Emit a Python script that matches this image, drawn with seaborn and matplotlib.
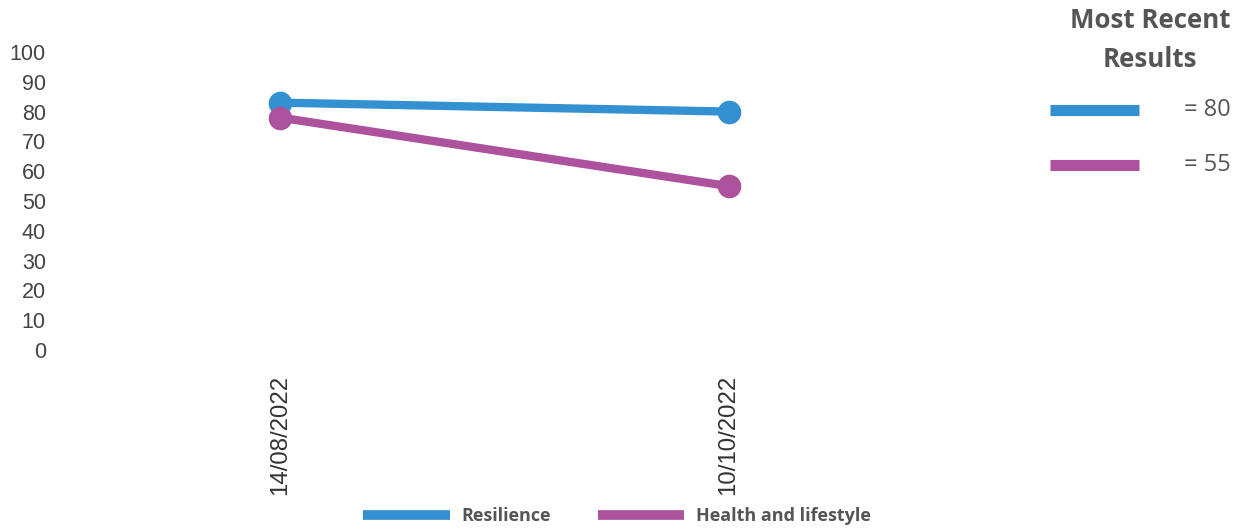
import matplotlib
matplotlib.use("Agg")
import matplotlib.pyplot as plt
from matplotlib.lines import Line2D
import seaborn as sns
import pandas as pd

dates = ["14/08/2022", "10/10/2022"]
series_names = ["Resilience", "Health and lifestyle"]
resilience = [83, 80]
health = [78, 55]
colors = ["#3391D1", "#AD539E"]
y_ticks = [0, 10, 20, 30, 40, 50, 60, 70, 80, 90, 100]

df = pd.DataFrame({
    "date": dates * 2,
    "score": resilience + health,
    "series": [series_names[0]] * len(dates) + [series_names[1]] * len(dates),
})
df["pos"] = [0, 1, 0, 1]

sns.set_theme(style="white")
plt.rcParams["font.family"] = ["Liberation Sans", "DejaVu Sans"]

fig = plt.figure(figsize=(12.42, 5.30), dpi=100)
ax = fig.add_axes([0.0447, 0.3396, 0.7226, 0.5623])

sns.lineplot(data=df, x="pos", y="score", hue="series", hue_order=series_names,
             palette=colors, marker="o", markersize=17, markeredgewidth=0,
             linewidth=6, legend=False, ax=ax, clip_on=False)

ax.set_xlim(-0.5, 1.5)
ax.set_ylim(0, 100)
ax.set_xticks([0, 1])
ax.set_xticklabels(dates, rotation=90, fontsize=17.3, color="#333333")
ax.set_yticks(y_ticks)
ax.set_yticklabels([str(v) for v in y_ticks], fontsize=15.5, color="#444444")
ax.tick_params(axis="both", length=0)
ax.tick_params(axis="y", pad=7)
ax.tick_params(axis="x", pad=18)
ax.set_xlabel("")
ax.set_ylabel("")
for s in ax.spines.values():
    s.set_visible(False)

# Summary panel on the right
fig.text(1150 / 1242, 1 - 40 / 530, "Most Recent\nResults", ha="center", va="center",
         fontsize=18.6, fontweight="bold", color="#555555", family="Open Sans",
         linespacing=1.6)
latest = [resilience[-1], health[-1]]
for i, (c, v) in enumerate(zip(colors, latest)):
    yy = 1 - (110 + 55 * i) / 530
    fig.add_artist(Line2D([1050 / 1242, 1139 / 1242], [yy, yy], color=c,
                          linewidth=8, solid_capstyle="butt"))
    fig.text(1231 / 1242, yy, f"= {v}", ha="right", va="center", fontsize=17,
             color="#555555", family="Open Sans")

# Series key at the bottom
handles = [Line2D([], [], color=c, linewidth=7, solid_capstyle="butt") for c in colors]
leg = fig.legend(handles, series_names, loc="center", bbox_to_anchor=(617 / 1242, 1 - 516 / 530),
                 ncol=2, frameon=False, handlelength=4.8, handletextpad=0.65,
                 columnspacing=2.6, prop={"family": "Open Sans", "weight": "bold", "size": 13})
for t in leg.get_texts():
    t.set_color("#555555")

fig.savefig("out.png", dpi=100)
